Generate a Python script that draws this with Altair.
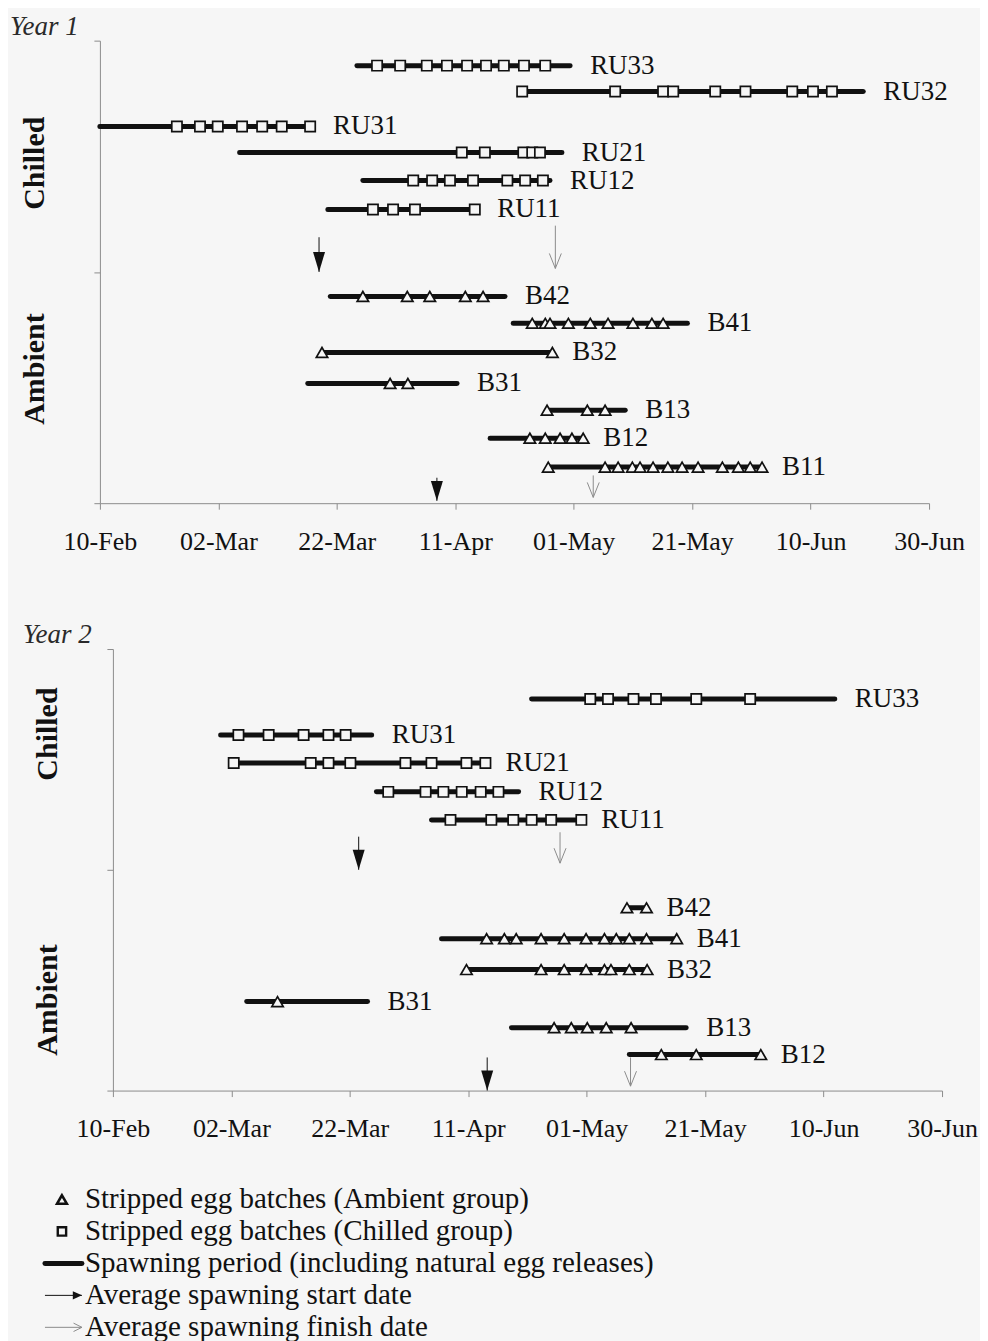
import altair as alt
import pandas as pd

BG = "#f6f6f6"
INK = "#111111"
GREY = "#8c8c8c"
FONT = "Liberation Serif"

# ---------------- axis ticks ----------------
TICK_DAYS = [0, 20, 40, 60, 80, 100, 120, 140]          # days after 10-Feb
TICK_LABELS = ["10-Feb", "02-Mar", "22-Mar", "11-Apr", "01-May", "21-May", "10-Jun", "30-Jun"]

# ---------------- Year 1 ----------------
y1_names = ["RU33", "RU32", "RU31", "RU21", "RU12", "RU11",
            "B42", "B41", "B32", "B31", "B13", "B12", "B11"]
y1_groups = ["Chilled"] * 6 + ["Ambient"] * 7
y1_level = [1.892, 1.780, 1.629, 1.516, 1.395, 1.270,
            0.894, 0.778, 0.652, 0.518, 0.402, 0.281, 0.156]
y1_start = [43.4, 71.3, 0.0, 23.6, 44.4, 38.5,
            38.9, 69.8, 37.5, 35.1, 75.5, 65.9, 75.7]
y1_end = [79.4, 128.9, 36.0, 78.0, 76.0, 63.7,
          68.4, 99.2, 76.4, 60.3, 88.7, 81.6, 111.8]
y1_batches = [
    [46.8, 50.7, 55.2, 58.6, 62.0, 65.2, 68.2, 71.6, 75.2],
    [71.3, 87.0, 95.1, 96.8, 103.9, 109.0, 116.9, 120.4, 123.6],
    [13.0, 16.9, 19.9, 24.0, 27.4, 30.7, 35.5],
    [61.1, 65.0, 71.5, 73.0, 74.3],
    [52.9, 56.1, 59.1, 63.0, 68.8, 71.8, 74.8],
    [46.1, 49.5, 53.2, 63.3],
    [44.4, 51.9, 55.7, 61.7, 64.7],
    [73.0, 75.2, 76.0, 79.1, 82.8, 85.8, 90.0, 93.2, 95.1],
    [37.5, 76.4],
    [49.0, 52.0],
    [75.5, 82.3, 85.3],
    [72.6, 75.2, 77.7, 79.7, 81.6],
    [75.7, 85.3, 87.5, 89.9, 91.2, 93.4, 95.9, 98.3, 101.0, 105.1, 107.8, 109.8, 111.8],
]
y1_arrow_kind = ["start", "finish", "start", "finish"]
y1_arrow_day = [37.0, 76.9, 56.9, 83.3]
y1_arrow_tip = [1.0, 1.015, 0.01, 0.025]
y1_arrow_tail = [1.15, 1.20, 0.11, 0.12]
y1_group_text = ["Chilled", "Ambient"]
y1_group_level = [1.47, 0.58]

# ---------------- Year 2 ----------------
y2_names = ["RU33", "RU31", "RU21", "RU12", "RU11",
            "B42", "B41", "B32", "B31", "B13", "B12"]
y2_groups = ["Chilled"] * 5 + ["Ambient"] * 6
y2_level = [1.774, 1.611, 1.484, 1.353, 1.226,
            0.828, 0.688, 0.548, 0.403, 0.285, 0.163]
y2_start = [70.7, 18.2, 20.4, 44.5, 53.8,
            86.8, 55.5, 59.7, 22.6, 67.3, 87.2]
y2_end = [121.9, 43.7, 62.9, 68.5, 79.1,
          90.1, 95.2, 90.2, 43.0, 96.8, 109.4]
y2_batches = [
    [80.6, 83.6, 87.9, 91.7, 98.5, 107.6],
    [21.2, 26.3, 32.2, 36.4, 39.3],
    [20.4, 33.4, 36.4, 40.1, 49.4, 53.8, 59.7, 62.9],
    [46.5, 52.8, 55.8, 58.9, 62.1, 65.1],
    [57.0, 63.9, 67.6, 70.7, 74.0, 79.1],
    [86.8, 90.1],
    [63.1, 66.1, 68.1, 72.3, 76.2, 79.9, 83.0, 85.0, 87.2, 90.1, 95.2],
    [59.7, 72.3, 76.2, 79.9, 83.0, 84.1, 87.2, 90.2],
    [27.8],
    [74.5, 77.4, 80.1, 83.3, 87.5],
    [92.6, 98.5, 109.4],
]
y2_arrow_kind = ["start", "finish", "start", "finish"]
y2_arrow_day = [41.5, 75.5, 63.2, 87.4]
y2_arrow_tip = [1.0, 1.03, 0.0, 0.02]
y2_arrow_tail = [1.15, 1.17, 0.15, 0.15]
y2_group_text = ["Chilled", "Ambient"]
y2_group_level = [1.615, 0.41]

# ---------------- legend ----------------
leg_text = ["Stripped egg batches (Ambient group)",
            "Stripped egg batches (Chilled group)",
            "Spawning period (including natural egg releases)",
            "Average spawning start date",
            "Average spawning finish date"]
leg_kind = ["tri", "sq", "line", "start", "finish"]

LABEL_EXPR = "[" + ",".join("'%s'" % t for t in TICK_LABELS) + "][round(datum.value / 20)]"

HEAD_DOWN = "M-0.6,-2L0.6,-2L0,0Z"
VEE_DOWN = "M-0.6,-1.5L0,0L0.6,-1.5"
HEAD_RIGHT = "M-1.3,-0.6L-1.3,0.6L0,0Z"
VEE_RIGHT = "M-1.2,-0.6L0,0L-1.2,0.6"


def panel(title, names, groups, level, start, end, batches,
          a_kind, a_day, a_tip, a_tail, g_text, g_level,
          height, shift, spacer):
    spans = pd.DataFrame({"name": names, "group": groups, "level": level,
                          "start": start, "end": end})
    rows = []
    for n, g, lv, bs in zip(names, groups, level, batches):
        for d in bs:
            rows.append({"name": n, "group": g, "level": lv, "day": d})
    pts = pd.DataFrame(rows)
    arrows = pd.DataFrame({"kind": a_kind, "day": a_day, "tip": a_tip, "tail": a_tail})
    glab = pd.DataFrame({"text": g_text, "level": g_level})
    tdf = pd.DataFrame({"text": [title]})

    xscale = alt.Scale(domain=[0, 140], range=[shift, shift + 830], nice=False, zero=False)
    yscale = alt.Scale(domain=[0, 2], nice=False, zero=False)
    xaxis = alt.Axis(values=TICK_DAYS, labelExpr=LABEL_EXPR, title=None, grid=False,
                     tickSize=6, labelPadding=19, labelFont=FONT, labelFontSize=26,
                     labelColor=INK, domainColor=GREY, tickColor=GREY,
                     labelFlush=False, labelOverlap=False)
    yaxis = alt.Axis(values=[0, 1, 2], labels=False, title=None, grid=False,
                     tickSize=6, domainColor=GREY, tickColor=GREY, offset=-shift)

    def X(f):
        return alt.X(f, type="quantitative", scale=xscale, axis=xaxis)

    def Y(f):
        return alt.Y(f, type="quantitative", scale=yscale, axis=yaxis)

    spans_l = alt.Chart(spans).mark_rule(strokeWidth=5, strokeCap="round", color=INK).encode(
        x=X("start"), x2="end", y=Y("level"))
    tri_l = alt.Chart(pts).transform_filter("datum.group == 'Ambient'").mark_point(
        shape="triangle-up", filled=True, fill=BG, stroke=INK, strokeWidth=1.7,
        size=130, opacity=1).encode(x=X("day"), y=Y("level"))
    sq_l = alt.Chart(pts).transform_filter("datum.group == 'Chilled'").mark_point(
        shape="square", filled=True, fill=BG, stroke=INK, strokeWidth=1.7,
        size=105, opacity=1).encode(x=X("day"), y=Y("level"))
    lab_l = alt.Chart(spans).mark_text(align="left", baseline="middle", dx=20,
                                       font=FONT, fontSize=27, color=INK).encode(
        x=X("end"), y=Y("level"), text="name:N")
    tail_l = alt.Chart(arrows).mark_rule(strokeWidth=1).encode(
        x=X("day"), y=Y("tail"), y2="tip",
        color=alt.Color("kind:N", scale=alt.Scale(domain=["start", "finish"], range=[INK, GREY]),
                        legend=None))
    head_s = alt.Chart(arrows).transform_filter("datum.kind == 'start'").mark_point(
        shape=HEAD_DOWN, filled=True, color=INK, size=400, opacity=1).encode(
        x=X("day"), y=Y("tip"))
    head_f = alt.Chart(arrows).transform_filter("datum.kind == 'finish'").mark_point(
        shape=VEE_DOWN, filled=False, color=GREY, strokeWidth=1, size=400, opacity=1).encode(
        x=X("day"), y=Y("tip"))
    grp_l = alt.Chart(glab).mark_text(angle=270, align="center", baseline="middle",
                                      font=FONT, fontSize=30, fontWeight="bold", color=INK).encode(
        x=alt.value(shift - 65), y=Y("level"), text="text:N")
    ttl_l = alt.Chart(tdf).mark_text(align="left", baseline="alphabetic", font=FONT,
                                     fontSize=27, fontStyle="italic", color="#2a2a2a").encode(
        x=alt.value(shift - 90), y=alt.value(-6), text="text:N")
    layers = [spans_l, tail_l, head_s, head_f, tri_l, sq_l, lab_l, grp_l, ttl_l]
    if spacer:
        sp = alt.Chart(tdf).mark_rule(color=BG, strokeWidth=1).encode(
            x=alt.value(shift + 300), x2=alt.value(shift + 301), y=alt.value(-spacer))
        layers.append(sp)
    return alt.layer(*layers).properties(width=830 + shift, height=height)


p1 = panel("Year 1", y1_names, y1_groups, y1_level, y1_start, y1_end, y1_batches,
           y1_arrow_kind, y1_arrow_day, y1_arrow_tip, y1_arrow_tail,
           y1_group_text, y1_group_level, 463, 0, 0)
p2 = panel("Year 2", y2_names, y2_groups, y2_level, y2_start, y2_end, y2_batches,
           y2_arrow_kind, y2_arrow_day, y2_arrow_tip, y2_arrow_tail,
           y2_group_text, y2_group_level, 442, 13, 52)

# legend panel
leg = pd.DataFrame({"row": list(range(len(leg_text))), "text": leg_text, "kind": leg_kind})
ly = alt.Y("row:Q", scale=alt.Scale(domain=[-0.5, 4.5], reverse=True, nice=False, zero=False),
           axis=None)
SYM_X = -38
L0, L1 = -55, -18
TXT_X = -15
leg_txt = alt.Chart(leg).mark_text(align="left", baseline="middle", font=FONT,
                                   fontSize=29, color=INK).encode(
    x=alt.value(TXT_X), y=ly, text="text:N")
leg_tri = alt.Chart(leg).transform_filter("datum.kind == 'tri'").mark_point(
    shape="triangle-up", filled=True, fill=BG, stroke=INK, strokeWidth=2.6, size=95,
    opacity=1).encode(x=alt.value(SYM_X), y=ly)
leg_sq = alt.Chart(leg).transform_filter("datum.kind == 'sq'").mark_point(
    shape="square", filled=True, fill=BG, stroke=INK, strokeWidth=2.4, size=70,
    opacity=1).encode(x=alt.value(SYM_X), y=ly)
leg_line = alt.Chart(leg).transform_filter("datum.kind == 'line'").mark_rule(
    strokeWidth=5, strokeCap="round", color=INK).encode(
    x=alt.value(L0), x2=alt.value(L1), y=ly)
leg_tail = alt.Chart(leg).transform_filter("datum.kind == 'start' || datum.kind == 'finish'").mark_rule(
    strokeWidth=1).encode(
    x=alt.value(L0), x2=alt.value(L1), y=ly,
    color=alt.Color("kind:N", scale=alt.Scale(domain=["start", "finish"], range=[INK, GREY]),
                    legend=None))
leg_head_s = alt.Chart(leg).transform_filter("datum.kind == 'start'").mark_point(
    shape=HEAD_RIGHT, filled=True, color=INK, size=196, opacity=1).encode(
    x=alt.value(L1), y=ly)
leg_head_f = alt.Chart(leg).transform_filter("datum.kind == 'finish'").mark_point(
    shape=VEE_RIGHT, filled=False, color=GREY, strokeWidth=1, size=196, opacity=1).encode(
    x=alt.value(L1), y=ly)
legend = alt.layer(leg_line, leg_tail, leg_head_s, leg_head_f, leg_tri, leg_sq, leg_txt).properties(
    width=600, height=160)

chart = alt.vconcat(p1, p2, legend, spacing=42).configure_view(stroke=None).properties(
    background=BG, padding={"left": 2, "top": 4, "right": 2, "bottom": 2})

chart.save("out.html", embed_options={"renderer": "svg", "actions": False})
